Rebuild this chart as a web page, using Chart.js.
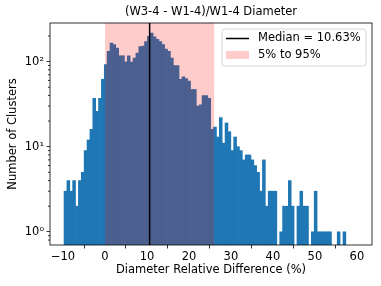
<!DOCTYPE html>
<html>
<head>
	<meta charset="utf-8">
	<script src="https://cdn.jsdelivr.net/npm/chart.js@4.4.0/dist/chart.umd.min.js"></script>
	<style>
		body { margin: 0; background: #fff; }
	</style>
	<title>Diameter difference</title>
</head>
<body>
	<canvas id="hist" width="381" height="286"></canvas>
	<script>
		// histogram bins (in %), counts
		var binStart = -9.76;
		var binWidth = 0.685;
		var counts = [3, 4, 3, 4, 2, 4, 5, 9, 12, 16,
			37, 26, 37, 62, 92, 132, 165, 158, 144, 117,
			117, 99, 117, 99, 110, 126, 150, 152, 172, 198,
			216, 195, 182, 172, 158, 140, 132, 110, 90, 90,
			62, 66, 63, 59, 47, 47, 30, 31, 40, 40,
			37, 16, 17, 13, 22, 11, 19, 15, 9, 13,
			10, 9, 7, 8, 8, 7, 6, 5, 3, 7,
			2, 3, 3, 3, 0, 1, 2, 2, 4, 2,
			0, 2, 3, 2, 2, 0, 1, 3, 1, 1,
			1, 1, 1, 0, 0, 1, 0, 1];
		var xTicks = [-10, 0, 10, 20, 30, 40, 50, 60];
		var yTicks = [0.8, 0.9, 1, 2, 3, 4, 5, 6, 7, 8, 9, 10, 20, 30, 40, 50, 60, 70, 80, 90, 100, 200];
		var median = 10.63;
		var pct5 = 0.0;
		var pct95 = 26.0;
		var chartTitle = '(W3-4 - W1-4)/W1-4 Diameter';

		var FONT = "'DejaVu Sans', sans-serif";

		var points = [];
		for (var i = 0; i < counts.length; i++) {
			points.push({ x: binStart + binWidth * (i + 0.5), y: counts[i] > 0 ? counts[i] : null });
		}

		function isMajor(v) {
			return v === 1 || v === 10 || v === 100;
		}

		// span, median line, frame, minor ticks, title and legend
		var overlay = {
			id: 'overlay',
			afterDatasetsDraw: function (chart) {
				var ctx = chart.ctx, a = chart.chartArea, x = chart.scales.x;
				ctx.save();
				ctx.beginPath();
				ctx.rect(a.left, a.top, a.right - a.left, a.bottom - a.top);
				ctx.clip();
				var x0 = x.getPixelForValue(pct5), x1 = x.getPixelForValue(pct95);
				ctx.fillStyle = 'rgba(255,0,0,0.2)';
				ctx.fillRect(x0, a.top, x1 - x0, a.bottom - a.top);
				var xm = x.getPixelForValue(median);
				ctx.strokeStyle = '#000';
				ctx.lineWidth = 1.5;
				ctx.beginPath();
				ctx.moveTo(xm, a.top);
				ctx.lineTo(xm, a.bottom);
				ctx.stroke();
				ctx.restore();
			},
			afterDraw: function (chart) {
				var ctx = chart.ctx, a = chart.chartArea, y = chart.scales.y;
				ctx.save();
				ctx.strokeStyle = '#000';
				ctx.lineWidth = 0.8;
				ctx.strokeRect(a.left, a.top, a.right - a.left, a.bottom - a.top);
				// minor ticks
				ctx.beginPath();
				yTicks.forEach(function (v) {
					if (isMajor(v)) return;
					var py = y.getPixelForValue(v);
					ctx.moveTo(a.left - 2, py);
					ctx.lineTo(a.left, py);
				});
				ctx.stroke();

				// title centred over the axes
				ctx.fillStyle = '#000';
				ctx.font = '11.5px ' + FONT;
				ctx.textAlign = 'center';
				ctx.textBaseline = 'middle';
				ctx.fillText(chartTitle, (a.left + a.right) / 2, 12.5);

				// legend box
				var bx = 222, by = 29, bw = 144, bh = 37, r = 3;
				ctx.beginPath();
				ctx.moveTo(bx + r, by);
				ctx.arcTo(bx + bw, by, bx + bw, by + bh, r);
				ctx.arcTo(bx + bw, by + bh, bx, by + bh, r);
				ctx.arcTo(bx, by + bh, bx, by, r);
				ctx.arcTo(bx, by, bx + bw, by, r);
				ctx.closePath();
				ctx.fillStyle = 'rgba(255,255,255,0.8)';
				ctx.fill();
				ctx.strokeStyle = '#cccccc';
				ctx.lineWidth = 0.8;
				ctx.stroke();

				ctx.strokeStyle = '#000';
				ctx.lineWidth = 1.5;
				ctx.beginPath();
				ctx.moveTo(226, 38.5);
				ctx.lineTo(249, 38.5);
				ctx.stroke();
				ctx.fillStyle = 'rgba(255,0,0,0.2)';
				ctx.fillRect(226, 51, 23, 8);

				ctx.fillStyle = '#000';
				ctx.textAlign = 'left';
				ctx.fillText('Median = ' + median.toFixed(2) + '%', 258, 38.5);
				ctx.fillText('5% to 95%', 258, 55);
				ctx.restore();
			}
		};

		new Chart(document.getElementById('hist'), {
			type: 'bar',
			data: {
				datasets: [{
					data: points,
					backgroundColor: '#1f77b4',
					borderWidth: 0,
					barPercentage: 1,
					categoryPercentage: 1
				}]
			},
			options: {
				responsive: false,
				devicePixelRatio: 1,
				animation: false,
				layout: { padding: { top: 23, right: 9 } },
				plugins: {
					legend: { display: false },
					tooltip: { enabled: false },
					title: { display: false }
				},
				scales: {
					x: {
						type: 'linear',
						min: -13.1,
						max: 63.6,
						offset: false,
						afterBuildTicks: function (scale) {
							scale.ticks = xTicks.map(function (v) { return { value: v }; });
						},
						afterFit: function (scale) { scale.height = 41; },
						grid: { drawOnChartArea: false, drawTicks: true, tickLength: 3.5, tickColor: '#000', tickWidth: 0.8 },
						border: { display: false },
						ticks: {
							autoSkip: false,
							maxRotation: 0,
							padding: 2,
							color: '#000',
							font: { family: FONT, size: 11.5 },
							callback: function (v) { return v < 0 ? '\u2212' + Math.abs(v) : String(v); }
						},
						title: {
							display: true,
							text: 'Diameter Relative Difference (%)',
							color: '#000',
							font: { family: FONT, size: 11.5 },
							padding: { top: 0, bottom: 9 }
						}
					},
					y: {
						type: 'logarithmic',
						min: 0.745,
						max: 284,
						afterBuildTicks: function (scale) {
							scale.ticks = yTicks.map(function (v) { return { value: v }; });
						},
						afterFit: function (scale) { scale.width = 50; },
						grid: {
							drawOnChartArea: false, drawTicks: true, tickLength: 3.5, tickWidth: 0.8,
							tickColor: function (c) { return c.tick && isMajor(c.tick.value) ? '#000' : 'rgba(0,0,0,0)'; }
						},
						border: { display: false },
						ticks: {
							autoSkip: false,
							padding: 2.5,
							color: '#000',
							font: { family: FONT, size: 11.5 },
							callback: function (v) {
								if (v === 1) return '10\u2070';
								if (v === 10) return '10\u00b9';
								if (v === 100) return '10\u00b2';
								return '';
							}
						},
						title: {
							display: true,
							text: 'Number of Clusters',
							color: '#000',
							font: { family: FONT, size: 11.5 },
							padding: { top: 6, bottom: 0 }
						}
					}
				}
			},
			plugins: [overlay]
		});
	</script>
</body>
</html>
